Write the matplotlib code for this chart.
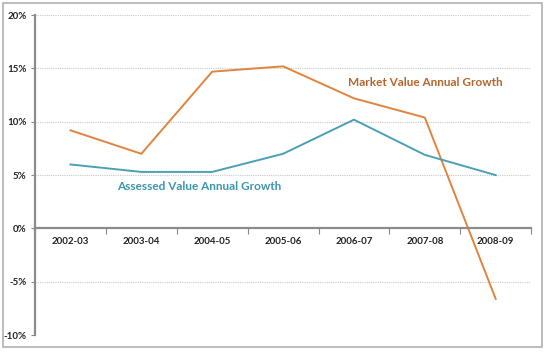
import matplotlib.pyplot as plt
from matplotlib.patches import Rectangle
from matplotlib.ticker import FixedLocator, FuncFormatter

years = ["2002-03", "2003-04", "2004-05", "2005-06", "2006-07", "2007-08", "2008-09"]
market_growth = [9.2, 7.0, 14.7, 15.2, 12.2, 10.4, -6.6]
assessed_growth = [6.0, 5.3, 5.3, 7.0, 10.2, 6.9, 5.0]

plt.rcParams['font.family'] = ['Lato', 'DejaVu Sans']

fig = plt.figure(figsize=(5.47, 3.52), dpi=100)
ax = fig.add_axes([0.064, 0.048, 0.907, 0.909])

# outer frame round the whole chart
fig.patches.append(Rectangle((0.006, 0.013), 0.985, 0.978, transform=fig.transFigure,
                             fill=False, edgecolor='#b0b0b0', lw=1.2))

x = list(range(len(years)))
ax.plot(x, market_growth, color='#e0843f', lw=1.4)
ax.plot(x, assessed_growth, color='#4aa0b5', lw=1.4)

ax.text(5.0, 13.7, "Market Value Annual Growth", color='#b5652b',
        fontsize=8.5, fontweight='bold', ha='center', va='center')
ax.text(1.81, 3.9, "Assessed Value Annual Growth", color='#3a95ad',
        fontsize=8.5, fontweight='bold', ha='center', va='center')

ax.set_xlim(-0.5, 6.5)
ax.set_ylim(-10, 20)

# gridlines
for v in [-10, -5, 5, 10, 15, 20]:
    ax.axhline(v, color='#c8c8c8', lw=0.8, ls=(0, (1, 1)), zorder=0)

ax.set_yticks([-10, -5, 0, 5, 10, 15, 20])
ax.yaxis.set_major_formatter(FuncFormatter(lambda v, p: f"{v:.0f}%"))
ax.tick_params(axis='y', length=3, width=0.8, color='#888888', labelsize=7,
               labelcolor='#222222', pad=3)
for lab in ax.get_yticklabels():
    lab.set_fontweight('bold')

ax.spines['bottom'].set_position(('data', 0))
ax.xaxis.set_major_locator(FixedLocator(x))
ax.set_xticklabels(years, fontsize=7, fontweight='bold', color='#222222')
ax.xaxis.set_minor_locator(FixedLocator([i + 0.5 for i in range(-1, 7)]))
ax.tick_params(axis='x', which='major', length=0, pad=6)
ax.tick_params(axis='x', which='minor', length=4, width=0.8, color='#888888', direction='out')

for s in ['top', 'right']:
    ax.spines[s].set_visible(False)
ax.spines['left'].set_color('#8c8c8c')
ax.spines['left'].set_linewidth(1.6)
ax.spines['bottom'].set_color('#8c8c8c')
ax.spines['bottom'].set_linewidth(1.6)

fig.savefig("out.png", dpi=100)
